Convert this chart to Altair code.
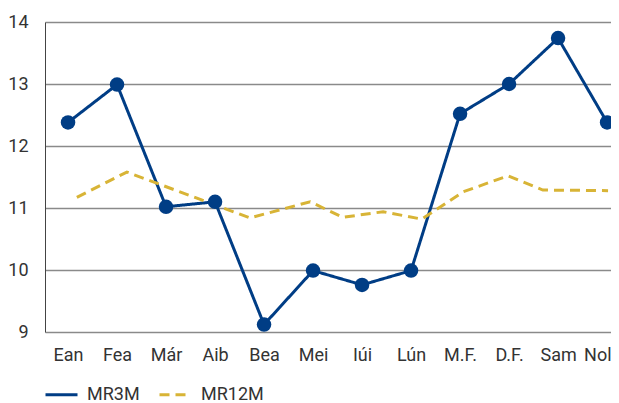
import altair as alt
import pandas as pd

months = ["Ean", "Fea", "Már", "Aib", "Bea", "Mei", "Iúi", "Lún", "M.F.", "D.F.", "Sam", "Nol"]
mr3m = [12.38, 12.99, 11.02, 11.10, 9.12, 9.99, 9.76, 9.99, 12.52, 13.0, 13.74, 12.38]
mr12m_pos = [0.18, 1.20, 3.71, 4.94, 5.61, 6.43, 7.22, 8.06, 8.98, 9.69, 11.02]
mr12m = [11.17, 11.58, 10.84, 11.10, 10.85, 10.94, 10.82, 11.26, 11.52, 11.29, 11.28]
y_ticks = [9, 10, 11, 12, 13, 14]
series = ["MR3M", "MR12M"]
colors = ["#003D85", "#D8B436"]
dashes = [[1, 0], [10, 6]]

FONT = "Roboto"

df3 = pd.DataFrame({"pos": list(range(len(months))), "value": mr3m, "series": "MR3M"})
df12 = pd.DataFrame({"pos": mr12m_pos, "value": mr12m, "series": "MR12M"})
data = pd.concat([df3, df12], ignore_index=True)

label_expr = "[" + ",".join("'" + m + "'" for m in months) + "][datum.value]"

x = alt.X(
    "pos:Q",
    scale=alt.Scale(domain=[-0.47, 11.08], nice=False, zero=False),
    axis=alt.Axis(values=list(range(len(months))), labelExpr=label_expr, grid=False,
                  domain=False, ticks=False, labelPadding=14, title=None,
                  labelFlush=10, labelFlushOffset=4),
)
y = alt.Y(
    "value:Q",
    scale=alt.Scale(domain=[9, 14], nice=False, zero=False),
    axis=alt.Axis(values=y_ticks, grid=True, gridColor="#8a8a8a", gridWidth=1.5,
                  domain=True, domainColor="#444444", domainWidth=1, ticks=False,
                  labelPadding=17, title=None),
)

leg = alt.Legend(title=None, orient="none", legendX=-1, legendY=355, direction="horizontal")

lines = alt.Chart(data).mark_line(strokeWidth=3).encode(
    x=x, y=y,
    color=alt.Color("series:N", scale=alt.Scale(domain=series, range=colors), legend=leg),
    strokeDash=alt.StrokeDash("series:N", scale=alt.Scale(domain=series, range=dashes), legend=leg),
    detail="series:N",
)

points = alt.Chart(df3).mark_circle(size=210, opacity=1, color=colors[0]).encode(x=x, y=y)

chart = alt.layer(lines, points).properties(
    width=566, height=310,
    autosize=alt.AutoSizeParams(type="none"),
    padding={"left": 37, "top": 14, "right": 0, "bottom": 71},
).configure(font=FONT).configure_view(stroke=None).configure_axis(
    labelFont=FONT, labelFontSize=18, labelColor="#333333"
).configure_legend(
    labelFont=FONT, labelFontSize=18, labelColor="#333333",
    symbolType="stroke", symbolSize=1024, symbolStrokeWidth=3,
    labelOffset=8, columnPadding=13, padding=0,
)

chart.save("out.html", embed_options={"renderer": "svg", "actions": False})
